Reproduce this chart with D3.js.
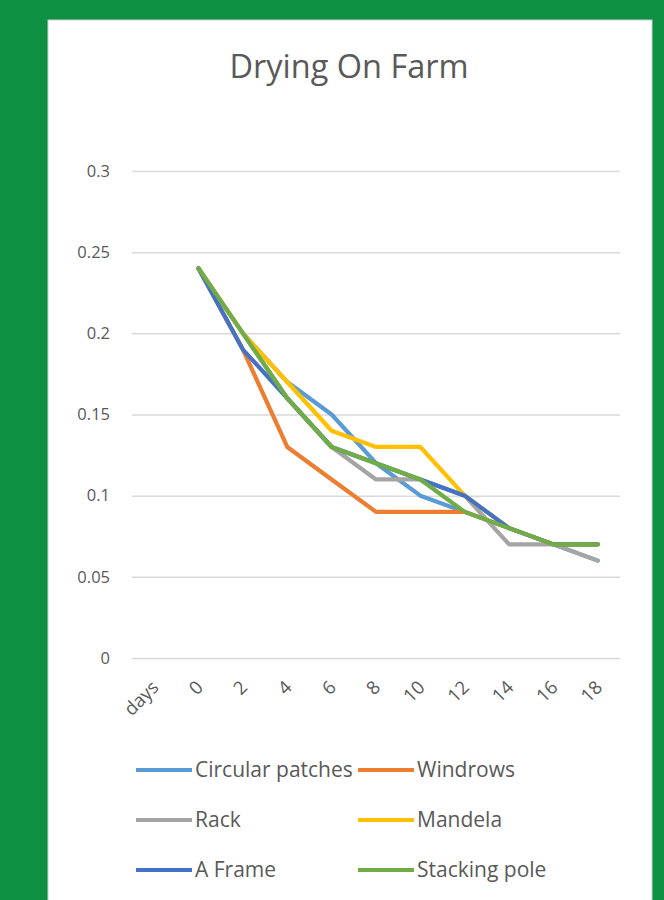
<!DOCTYPE html>
<html>
<head>
<meta charset="utf-8">
<script src="https://cdn.jsdelivr.net/npm/d3@7"></script>
<style>
  html, body { margin: 0; padding: 0; background: #0e9143; }
  svg { display: block; }
</style>
</head>
<body>
<script>
const title = "Drying On Farm";
const categories = ["days", "0", "2", "4", "6", "8", "10", "12", "14", "16", "18"];
const yTicks = [0, 0.05, 0.1, 0.15, 0.2, 0.25, 0.3];
const seriesNames = ["Circular patches", "Windrows", "Rack", "Mandela", "A Frame", "Stacking pole"];
const seriesColors = ["#5b9bd5", "#ed7d31", "#a5a5a5", "#ffc000", "#4472c4", "#70ad47"];
const circularPatches = [null, 0.24, 0.20, 0.17, 0.15, 0.12, 0.10, 0.09, 0.08, 0.07, 0.06];
const windrows        = [null, 0.24, 0.19, 0.13, 0.11, 0.09, 0.09, 0.09, 0.08, 0.07, 0.07];
const rack            = [null, 0.24, 0.20, 0.16, 0.13, 0.11, 0.11, 0.10, 0.07, 0.07, 0.06];
const mandela         = [null, 0.24, 0.20, 0.17, 0.14, 0.13, 0.13, 0.10, 0.08, 0.07, 0.07];
const aFrame          = [null, 0.24, 0.19, 0.16, 0.13, 0.12, 0.11, 0.10, 0.08, 0.07, 0.07];
const stackingPole    = [null, 0.24, 0.20, 0.16, 0.13, 0.12, 0.11, 0.09, 0.08, 0.07, 0.07];
const seriesValues = [circularPatches, windrows, rack, mandela, aFrame, stackingPole];

const W = 664, H = 900;
const font = "'Open Sans', 'Liberation Sans', sans-serif";
const textColor = "#595959";

const svg = d3.select("body").append("svg").attr("width", W).attr("height", H);
svg.append("rect").attr("width", W).attr("height", H).attr("fill", "#0e9143");
svg.append("rect").attr("x", 48).attr("y", 20).attr("width", 604).attr("height", 890)
  .attr("fill", "#ffffff").attr("stroke", "#d0d0d0").attr("stroke-width", 1);

svg.append("text").attr("x", 349).attr("y", 78).attr("text-anchor", "middle")
  .attr("font-family", font).attr("font-size", 32.5).attr("fill", textColor).text(title);

const x = d3.scaleBand().domain(categories).range([132, 620]);
const y = d3.scaleLinear().domain([0, 0.3]).range([658, 171]);

// gridlines
const yAxis = d3.axisLeft(y).tickValues(yTicks).tickSize(-(620 - 132)).tickPadding(22)
  .tickFormat(d => d === 0 ? "0" : String(+d.toFixed(2)));
const gy = svg.append("g").attr("transform", "translate(132,0)").call(yAxis);
gy.select(".domain").remove();
gy.selectAll(".tick line").attr("stroke", "#d9d9d9").attr("stroke-width", 1.5);
gy.selectAll(".tick text").attr("font-family", font).attr("font-size", 16.5)
  .attr("fill", textColor);

// x axis labels
const xAxis = d3.axisBottom(x).tickSize(0).tickPadding(0);
const gx = svg.append("g").attr("transform", "translate(0,658)").call(xAxis);
gx.select(".domain").remove();
gx.selectAll(".tick text")
  .attr("font-family", font).attr("font-size", 18.5).attr("fill", textColor)
  .attr("text-anchor", "end").attr("dy", "0.35em")
  .attr("transform", "translate(1,26) rotate(-45)");

// lines
const line = d3.line()
  .defined(d => d.v !== null)
  .x(d => x(d.c) + x.bandwidth() / 2)
  .y(d => y(d.v));

seriesValues.forEach((vals, i) => {
  const data = categories.map((c, j) => ({ c, v: vals[j] }));
  svg.append("path").datum(data).attr("d", line)
    .attr("fill", "none").attr("stroke", seriesColors[i])
    .attr("stroke-width", 4.2).attr("stroke-linejoin", "round").attr("stroke-linecap", "round");
});

// legend
const legendPos = [[136, 770], [358, 770], [136, 820], [358, 820], [136, 870], [358, 870]];
seriesNames.forEach((name, i) => {
  const [lx, ly] = legendPos[i];
  const g = svg.append("g").attr("transform", `translate(${lx},${ly})`);
  g.append("line").attr("x1", 0).attr("x2", 56).attr("y1", 0).attr("y2", 0)
    .attr("stroke", seriesColors[i]).attr("stroke-width", 4);
  g.append("text").attr("x", 59).attr("y", 0).attr("dy", "0.35em")
    .attr("font-family", font).attr("font-size", 21).attr("fill", textColor)
    .text(name);
});
</script>
</body>
</html>
